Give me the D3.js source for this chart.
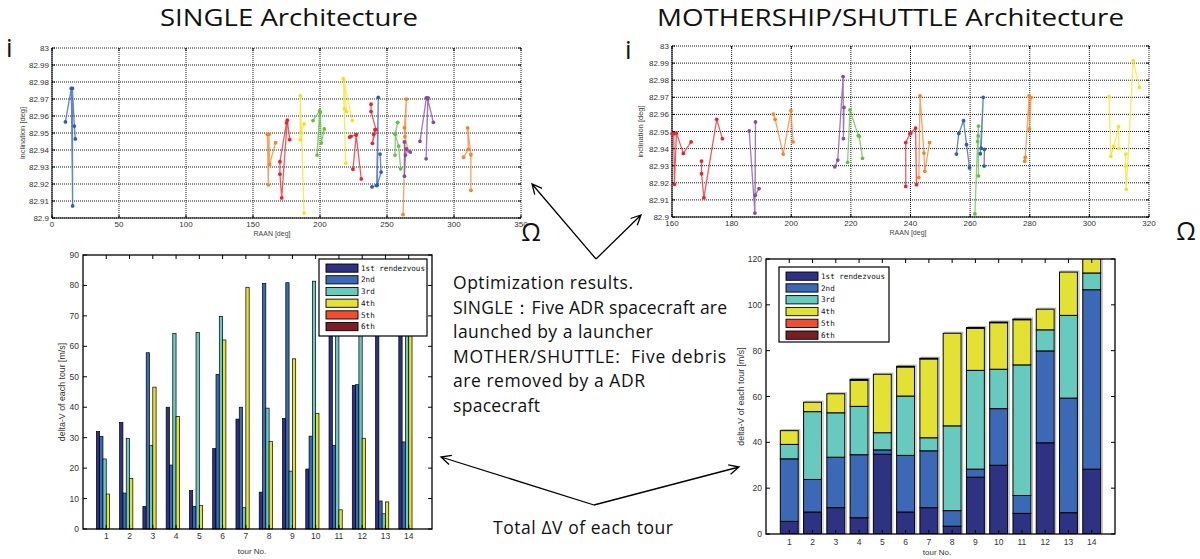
<!DOCTYPE html>
<html><head><meta charset="utf-8">
<script src="https://cdn.jsdelivr.net/npm/d3@7"></script>
<style>body{margin:0;background:#fff}svg{display:block}</style>
</head><body>
<svg id="c" width="1200" height="559"></svg>
<script>
// ---------------- DATA ----------------
const singleRaanTicks = [0, 50, 100, 150, 200, 250, 300, 350];
const motherRaanTicks = [160, 180, 200, 220, 240, 260, 280, 300, 320];
const inclTicks = [82.9, 82.91, 82.92, 82.93, 82.94, 82.95, 82.96, 82.97, 82.98, 82.99, 83];
const inclTickLabels = ["82.9","82.91","82.92","82.93","82.94","82.95","82.96","82.97","82.98","82.99","83"];

const BLUE = "#2f5db3", ORANGE = "#f5832f", RED = "#e8252e", YELLOW = "#f1e426", GREEN = "#64c046", PURPLE = "#7e4fa6";

// SINGLE architecture: each tour = list of [RAAN deg, inclination deg]
const singleTourColors = [BLUE, ORANGE, RED, YELLOW, GREEN, YELLOW, RED, RED, BLUE, GREEN, ORANGE, PURPLE, PURPLE, ORANGE];
const singleTours = [
  [[10.0,82.9565],[14.4,82.9762],[15.4,82.9071],[15.2,82.9762],[16.7,82.9541],[17.4,82.9465]],
  [[160.7,82.9492],[161.4,82.9195],[161.9,82.9492],[162.4,82.9315],[166.9,82.9443]],
  [[177.4,82.9461],[175.6,82.9575],[171.4,82.9118],[170.1,82.9258],[170.1,82.9331],[175.0,82.9560]],
  [[188.1,82.9553],[185.9,82.9502],[185.1,82.9459],[185.3,82.9719],[188.1,82.9029]],
  [[194.8,82.9573],[199.75,82.9630],[197.8,82.9370],[200.2,82.9622],[201.0,82.9441],[203.2,82.9524]],
  [[219.2,82.9323],[217.4,82.9819],[218.2,82.9642],[219.9,82.9626],[217.6,82.9815],[224.1,82.9573]],
  [[222.1,82.9476],[223.1,82.9480],[227.1,82.9490],[224.6,82.9287],[227.0,82.9488],[230.8,82.9230]],
  [[238.1,82.9669],[238.1,82.9626],[241.8,82.9520],[239.1,82.9439],[240.1,82.9492],[241.0,82.9520]],
  [[238.8,82.9183],[242.3,82.9191],[243.5,82.9709],[242.8,82.9195],[245.6,82.9270],[244.8,82.9376]],
  [[256.0,82.9370],[256.2,82.9492],[258.0,82.9563],[256.0,82.9495],[258.7,82.9423],[260.2,82.9289]],
  [[262.0,82.9020],[264.4,82.9699],[263.0,82.9531],[263.4,82.9478],[265.9,82.9394]],
  [[263.0,82.9447],[263.0,82.9246],[263.8,82.9370],[264.4,82.9406],[267.4,82.9388]],
  [[274.6,82.9451],[279.4,82.9707],[280.6,82.9707],[279.2,82.9348],[280.4,82.9700],[284.6,82.9563]],
  [[307.2,82.9358],[310.7,82.9404],[310.2,82.9530],[312.6,82.9372],[312.6,82.9163]]
];

// MOTHERSHIP/SHUTTLE architecture
const motherTourColors = [RED, RED, PURPLE, ORANGE, PURPLE, GREEN, RED, ORANGE, BLUE, GREEN, BLUE, ORANGE, YELLOW, YELLOW];
const motherTours = [
  [[160.0,82.9487],[160.6,82.9487],[160.8,82.9191],[161.5,82.9491],[163.8,82.9372],[166.4,82.9439]],
  [[169.9,82.9327],[169.9,82.9253],[170.7,82.9113],[175.0,82.9571],[176.9,82.9458]],
  [[185.9,82.9503],[187.8,82.9023],[188.0,82.9556],[187.9,82.9127],[189.2,82.9166]],
  [[194.0,82.9602],[194.6,82.9571],[197.3,82.9368],[199.9,82.9622],[200.6,82.9439]],
  [[214.6,82.9294],[215.6,82.9333],[217.4,82.9821],[217.5,82.9458],[217.7,82.9641]],
  [[218.9,82.9320],[219.7,82.9626],[222.5,82.9476],[222.8,82.9472],[223.9,82.9343]],
  [[238.4,82.9179],[238.4,82.9435],[239.8,82.9487],[240.1,82.9491],[241.7,82.9520],[242.0,82.9189]],
  [[242.8,82.9230],[243.2,82.9708],[244.5,82.9374],[244.8,82.9267],[246.4,82.9435]],
  [[255.4,82.9368],[256.2,82.9489],[257.8,82.9563],[258.8,82.9423],[259.8,82.9287]],
  [[261.6,82.9018],[262.5,82.9442],[262.8,82.9532],[262.7,82.9474],[262.8,82.9240]],
  [[263.4,82.9370],[264.4,82.9700],[263.7,82.9402],[264.8,82.9396],[264.7,82.9298]],
  [[278.3,82.9326],[278.5,82.9349],[279.8,82.9708],[279.9,82.9515],[280.4,82.9698]],
  [[306.6,82.9704],[307.2,82.9355],[308.2,82.9413],[309.8,82.9528],[309.9,82.9400]],
  [[312.2,82.9368],[312.1,82.9298],[312.4,82.9162],[314.7,82.9914],[316.8,82.9758]]
];

// delta-V bar charts
const tours = [1,2,3,4,5,6,7,8,9,10,11,12,13,14];
const seriesNames = ["1st rendezvous","2nd","3rd","4th","5th","6th"];
const seriesColors = ["#2e3282", "#3c69b5", "#68c9bf", "#e3e133", "#f04e32", "#7b1d24"];
const singleTicksY = [0,10,20,30,40,50,60,70,80,90];
const motherTicksY = [0,20,40,60,80,100,120];

// SINGLE: grouped bars (m/s)
const single1st = [32.0,35.0,7.4,40.0,12.6,26.4,36.1,12.1,36.3,19.7,70.0,47.2,78.0,66.0];
const single2nd = [30.4,11.8,57.9,21.0,7.4,50.8,40.0,80.6,80.9,30.5,27.5,47.4,9.2,28.6];
const single3rd = [23.0,29.8,27.4,64.2,64.5,69.8,7.0,39.7,19.0,81.4,75.0,68.0,5.0,72.0];
const single4th = [11.5,16.6,46.6,37.0,7.7,62.1,79.4,28.8,55.9,38.0,6.3,29.8,8.9,69.0];
const single5th = [0,0,0,0,0,0,0,0,0,0,0,0,0,0];
const single6th = [0,0,0,0,0,0,0,0,0,0,0,0,0,0];

// MOTHERSHIP/SHUTTLE: stacked segments (m/s)
const mother1st = [5.5,9.6,11.5,7.1,34.8,9.6,11.5,3.4,24.8,30.0,9.0,39.8,9.3,28.3];
const mother2nd = [27.3,14.2,22.0,27.5,1.9,24.7,24.8,6.8,3.5,24.7,7.8,40.1,50.0,78.3];
const mother3rd = [6.3,29.6,19.4,21.1,7.5,25.9,5.7,37.0,43.1,17.2,57.0,9.2,36.1,7.3];
const mother4th = [6.0,4.1,8.3,11.4,25.5,12.7,34.4,40.4,18.4,20.3,19.7,9.0,18.9,9.0];
const mother5th = [0,0,0,0,0,0,0,0,0,0,0,0,0,0];
const mother6th = [0,0,0,0.4,0,0.3,0.3,0,0.3,0.3,0.3,0,0,0];

// ---------------- DRAW ----------------
const svg = d3.select("#c");
const TICKFONT = "'Liberation Sans', Arial, sans-serif";
const BIGFONT = "'Open Sans', 'Noto Sans', sans-serif";

function bigText(txt, x, y, size, w, adj) {
  const t = svg.append("text").attr("x", x).attr("y", y)
    .attr("font-family", BIGFONT).attr("font-size", size).attr("fill", "#111").text(txt);
  if (w) t.attr("textLength", w).attr("lengthAdjust", adj || "spacing");
  return t;
}

// ---- scatter plots ----
function scatter(o) {
  const g = svg.append("g");
  const x = d3.scaleLinear().domain(o.xDomain).range([o.left, o.right]);
  const y = d3.scaleLinear().domain([82.9, 83]).range([o.bottom, o.top]);
  g.selectAll(".gx").data(o.xTicks).join("line")
    .attr("x1", d => x(d)).attr("x2", d => x(d)).attr("y1", o.top).attr("y2", o.bottom)
    .attr("stroke", "#000").attr("stroke-width", 0.9).attr("stroke-dasharray", "1,1");
  g.selectAll(".gy").data(inclTicks).join("line")
    .attr("x1", o.left).attr("x2", o.right).attr("y1", d => y(d)).attr("y2", d => y(d))
    .attr("stroke", "#000").attr("stroke-width", 0.9).attr("stroke-dasharray", "1,1");
  g.append("line").attr("x1", o.left).attr("x2", o.left).attr("y1", o.top).attr("y2", o.bottom).attr("stroke", "#000");
  g.append("line").attr("x1", o.left).attr("x2", o.right).attr("y1", o.bottom).attr("y2", o.bottom).attr("stroke", "#000");
  g.selectAll(".tx").data(o.xTicks).join("line")
    .attr("x1", d => x(d)).attr("x2", d => x(d)).attr("y1", o.bottom).attr("y2", o.bottom - 3).attr("stroke", "#000");
  g.selectAll(".tx2").data(o.xTicks).join("line")
    .attr("x1", d => x(d)).attr("x2", d => x(d)).attr("y1", o.top).attr("y2", o.top + 3).attr("stroke", "#000");
  g.selectAll(".ty").data(inclTicks).join("line")
    .attr("x1", o.left).attr("x2", o.left + 3).attr("y1", d => y(d)).attr("y2", d => y(d)).attr("stroke", "#000");
  g.selectAll(".ty2").data(inclTicks).join("line")
    .attr("x1", o.right).attr("x2", o.right - 3).attr("y1", d => y(d)).attr("y2", d => y(d)).attr("stroke", "#000");
  g.selectAll(".lx").data(o.xTicks).join("text")
    .attr("x", d => x(d)).attr("y", o.bottom + 9).attr("text-anchor", "middle")
    .attr("font-family", TICKFONT).attr("font-size", 8).attr("fill", "#333").text(d => d);
  g.selectAll(".ly").data(inclTicks).join("text")
    .attr("x", o.left - 3).attr("y", d => y(d) + 3).attr("text-anchor", "end")
    .attr("font-family", TICKFONT).attr("font-size", 8).attr("fill", "#333")
    .text((d, i) => inclTickLabels[i]);
  g.append("text").attr("x", o.xLabelX).attr("y", o.bottom + 18).attr("text-anchor", "middle")
    .attr("font-family", TICKFONT).attr("font-size", 7).attr("fill", "#444").text("RAAN [deg]");
  g.append("text").attr("transform", `translate(${o.yLabelX},${(o.top + o.bottom) / 2}) rotate(-90)`)
    .attr("text-anchor", "middle").attr("font-family", TICKFONT).attr("font-size", 7.5).attr("fill", "#444")
    .text("inclination [deg]");
  const line = d3.line().x(d => x(d[0])).y(d => y(d[1]));
  o.tours.forEach((pts, i) => {
    const c = o.colors[i];
    g.append("path").attr("d", line(pts)).attr("fill", "none").attr("stroke", c)
      .attr("stroke-width", 1.3).attr("stroke-opacity", 0.75);
    g.selectAll(null).data(pts).join("circle")
      .attr("cx", d => x(d[0])).attr("cy", d => y(d[1])).attr("r", 1.9).attr("fill", c);
  });
}

scatter({ left: 52, right: 521, top: 48, bottom: 218, xDomain: [0, 350], xTicks: singleRaanTicks,
  tours: singleTours, colors: singleTourColors, xLabelX: 272, yLabelX: 25 });
scatter({ left: 672, right: 1149, top: 46, bottom: 217, xDomain: [160, 320], xTicks: motherRaanTicks,
  tours: motherTours, colors: motherTourColors, xLabelX: 908, yLabelX: 643 });

// ---- bar charts ----
function barFrame(g, x, y, o, yTicks) {
  g.append("rect").attr("x", o.left).attr("y", o.top).attr("width", o.right - o.left).attr("height", o.bottom - o.top)
    .attr("fill", "none").attr("stroke", "#000").attr("stroke-width", 1.3);
  g.selectAll(null).data(yTicks).join("line")
    .attr("x1", o.left).attr("x2", o.left + 4).attr("y1", d => y(d)).attr("y2", d => y(d)).attr("stroke", "#000");
  g.selectAll(null).data(yTicks).join("line")
    .attr("x1", o.right).attr("x2", o.right - 4).attr("y1", d => y(d)).attr("y2", d => y(d)).attr("stroke", "#000");
  g.selectAll(null).data(tours).join("line")
    .attr("x1", d => x(d)).attr("x2", d => x(d)).attr("y1", o.top).attr("y2", o.top + 4).attr("stroke", "#000");
  g.selectAll(null).data(tours).join("line")
    .attr("x1", d => x(d)).attr("x2", d => x(d)).attr("y1", o.bottom).attr("y2", o.bottom - 4).attr("stroke", "#000");
  g.selectAll(null).data(yTicks).join("text")
    .attr("x", o.left - 4).attr("y", d => y(d) + 3).attr("text-anchor", "end")
    .attr("font-family", TICKFONT).attr("font-size", 8.5).attr("fill", "#333").text(d => d);
  g.selectAll(null).data(tours).join("text")
    .attr("x", d => x(d)).attr("y", o.bottom + o.xLabOff).attr("text-anchor", "middle")
    .attr("font-family", TICKFONT).attr("font-size", 8.5).attr("fill", "#333").text(d => d);
  g.append("text").attr("x", o.tourX).attr("y", o.tourY).attr("text-anchor", "middle")
    .attr("font-family", TICKFONT).attr("font-size", 8).attr("fill", "#333").text("tour No.");
  g.append("text").attr("transform", `translate(${o.yLabelX},${(o.top + o.bottom) / 2}) rotate(-90)`)
    .attr("text-anchor", "middle").attr("font-family", TICKFONT).attr("font-size", 8.8).attr("fill", "#333")
    .text("delta-V of each tour [m/s]");
}

function legend(g, lx, ly, w, h, rowH) {
  g.append("rect").attr("x", lx).attr("y", ly).attr("width", w).attr("height", h)
    .attr("fill", "#fff").attr("stroke", "#000").attr("stroke-width", 1.2);
  seriesNames.forEach((n, i) => {
    const yy = ly + 5 + i * rowH;
    g.append("rect").attr("x", lx + 7).attr("y", yy).attr("width", 32).attr("height", rowH - 3.5)
      .attr("fill", seriesColors[i]).attr("stroke", "#000").attr("stroke-width", 0.9);
    g.append("text").attr("x", lx + 42).attr("y", yy + rowH - 5).attr("font-family", "'DejaVu Sans Mono', monospace")
      .attr("font-size", 7.6).attr("fill", "#111").text(n);
  });
}

// SINGLE grouped
{
  const o = { left: 83, right: 432, top: 255, bottom: 529, xLabOff: 10, tourX: 252, tourY: 554, yLabelX: 65 };
  const g = svg.append("g");
  const x = d3.scaleLinear().domain([0, 15]).range([o.left, o.right]);
  const y = d3.scaleLinear().domain([0, 90]).range([o.bottom, o.top]);
  const series = [single1st, single2nd, single3rd, single4th, single5th, single6th];
  const slot = 0.142;
  series.forEach((vals, k) => {
    g.selectAll(null).data(tours).join("rect")
      .attr("x", d => x(d - 3 * slot + k * slot))
      .attr("y", (d, i) => y(vals[i]))
      .attr("width", x(slot) - x(0))
      .attr("height", (d, i) => y(0) - y(vals[i]))
      .attr("fill", seriesColors[k]).attr("stroke", "#000").attr("stroke-width", 0.7);
  });
  legend(g, 319, 259, 108, 77, 11.7);
  barFrame(g, x, y, o, singleTicksY);
}

// MOTHERSHIP stacked
{
  const o = { left: 766, right: 1115, top: 259, bottom: 534, xLabOff: 11, tourX: 937, tourY: 555, yLabelX: 744 };
  const g = svg.append("g");
  const x = d3.scaleLinear().domain([0, 15]).range([o.left, o.right]);
  const y = d3.scaleLinear().domain([0, 120]).range([o.bottom, o.top]);
  const keys = ["s1", "s2", "s3", "s4", "s5", "s6"];
  const cols = [mother1st, mother2nd, mother3rd, mother4th, mother5th, mother6th];
  const table = tours.map((t, i) => {
    const r = { tour: t };
    keys.forEach((k, j) => r[k] = cols[j][i]);
    return r;
  });
  const stacked = d3.stack().keys(keys)(table);
  svg.append("clipPath").attr("id", "clipM").append("rect")
    .attr("x", o.left).attr("y", o.top).attr("width", o.right - o.left).attr("height", o.bottom - o.top);
  const bw = 0.77;
  const gb = g.append("g").attr("clip-path", "url(#clipM)");
  gb.selectAll(null).data(table).join("rect")
    .attr("x", d => x(d.tour - bw / 2) + 1.5)
    .attr("y", d => y(d3.sum(keys, k => d[k])) - 1)
    .attr("width", x(bw) - x(0))
    .attr("height", d => y(0) - y(d3.sum(keys, k => d[k])))
    .attr("fill", "none").attr("stroke", "#bbb").attr("stroke-width", 1.2);
  stacked.forEach((layer, j) => {
    gb.selectAll(null).data(layer.filter(d => d[1] - d[0] > 0)).join("rect")
      .attr("x", d => x(d.data.tour - bw / 2))
      .attr("y", d => y(d[1]))
      .attr("width", x(bw) - x(0))
      .attr("height", d => y(d[0]) - y(d[1]))
      .attr("fill", seriesColors[j]).attr("stroke", "#000").attr("stroke-width", 1);
  });
  legend(g, 779, 267, 110, 75, 11.8);
  barFrame(g, x, y, o, motherTicksY);
}

// ---- titles & annotations ----
bigText("SINGLE Architecture", 160, 26, 23.5, 258, "spacingAndGlyphs");
bigText("MOTHERSHIP/SHUTTLE Architecture", 657, 26, 23.5, 467, "spacingAndGlyphs");
svg.append("text").attr("x", 6).attr("y", 57).attr("font-family", BIGFONT).attr("font-size", 26).attr("fill", "#111").text("i");
svg.append("text").attr("x", 625).attr("y", 59).attr("font-family", BIGFONT).attr("font-size", 26).attr("fill", "#111").text("i");
svg.append("text").attr("x", 531).attr("y", 241).attr("text-anchor", "middle").attr("font-family", BIGFONT).attr("font-size", 25).attr("fill", "#111").text("Ω");
svg.append("text").attr("x", 1186).attr("y", 240).attr("text-anchor", "middle").attr("font-family", BIGFONT).attr("font-size", 25).attr("fill", "#111").text("Ω");

const noteLines = ["Optimization results.", "SINGLE：Five ADR spacecraft are", "launched by a launcher",
  "MOTHER/SHUTTLE:  Five debris", "are removed by a ADR", "spacecraft"];
const noteWidths = [180, 274, 200, 273, 192, 87];
noteLines.forEach((t, i) => bigText(t, 453, 289 + i * 24.5, 17.5, noteWidths[i]).attr("xml:space", "preserve"));
bigText("Total ΔV of each tour", 493, 534, 17.5, 180);

function arrow(x1, y1, x2, y2) {
  const a = Math.atan2(y2 - y1, x2 - x1), L = 11, s = 0.45;
  const p = d3.path();
  p.moveTo(x1, y1); p.lineTo(x2, y2);
  p.moveTo(x2 - L * Math.cos(a - s), y2 - L * Math.sin(a - s)); p.lineTo(x2, y2);
  p.lineTo(x2 - L * Math.cos(a + s), y2 - L * Math.sin(a + s));
  svg.append("path").attr("d", p.toString()).attr("fill", "none").attr("stroke", "#000").attr("stroke-width", 1.3);
}
arrow(596, 259, 532, 184);
arrow(596, 259, 641, 215);
arrow(594, 505, 441, 457);
arrow(594, 505, 739, 467);
</script>
</body></html>
